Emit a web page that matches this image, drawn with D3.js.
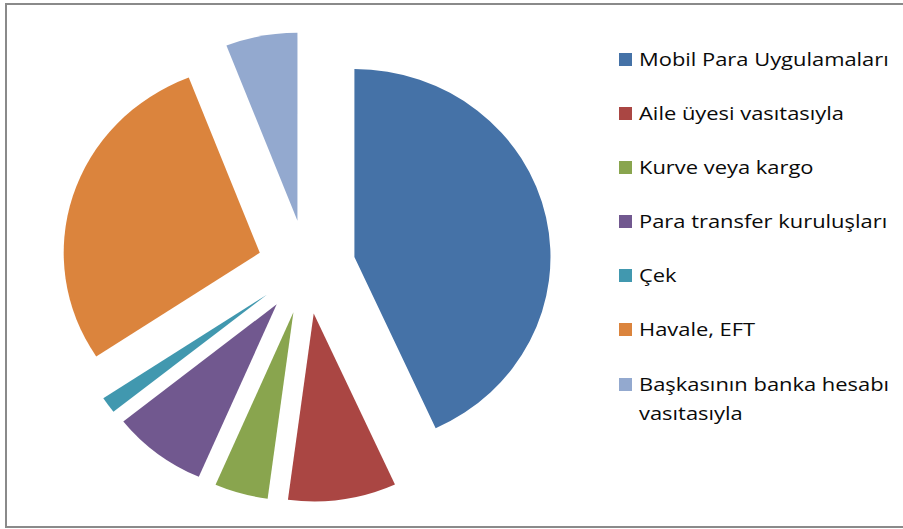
<!DOCTYPE html>
<html><head><meta charset="utf-8">
<script src="https://cdn.jsdelivr.net/npm/d3@7"></script>
<style>body{margin:0;background:#fff;} svg{display:block;}</style>
</head><body>
<svg id="chart" width="903" height="529"></svg>
<script>
const categories = ["Mobil Para Uygulamaları","Aile üyesi vasıtasıyla","Kurve veya kargo","Para transfer kuruluşları","Çek","Havale, EFT","Başkasının banka hesabı vasıtasıyla"];
const values = [43.2, 8.9, 4.4, 7.8, 1.4, 28.4, 5.9];
const colors = ["#4572A7","#AA4643","#89A54E","#71588F","#4198AF","#DB843D","#93A9CF"];

const svg = d3.select("#chart");
svg.append("rect").attr("x",6).attr("y",4).attr("width",920).attr("height",523)
  .attr("fill","#fff").attr("stroke","#8a8a8a").attr("stroke-width",2);

const r = 188, off = 47;
const g = svg.append("g").attr("transform","translate(306.5,267) scale(1.043,1)");
const pie = d3.pie().sort(null).value(d=>d)(values);
const arc = d3.arc().innerRadius(0).outerRadius(r);
g.selectAll("path").data(pie).join("path")
  .attr("d",arc)
  .attr("fill",(d,i)=>colors[i])
  .attr("transform",d=>{const a=(d.startAngle+d.endAngle)/2; return `translate(${off*Math.sin(a)},${-off*Math.cos(a)})`;});

const legendTop = [53,107,161,215,269,323,378];
const lg = svg.append("g").attr("font-family","'Open Sans', sans-serif").attr("font-size",18.5).attr("fill","#0a0a0a");
const texts = [];
categories.forEach((c,i)=>{
  const y = legendTop[i];
  lg.append("rect").attr("x",619).attr("y",y).attr("width",13).attr("height",13).attr("fill",colors[i]);
  const t = lg.append("text").attr("x",0).attr("y",0).attr("transform",`translate(639,${y+13})`);
  if (i===6){
    t.append("tspan").attr("x",0).text("Başkasının banka hesabı");
    t.append("tspan").attr("x",0).attr("dy",29).text("vasıtasıyla");
  } else t.text(c);
  texts.push({t, y});
});
// widen glyphs horizontally so the first entry spans ~250px like the reference
const w0 = texts[0].t.node().getComputedTextLength();
const sx = 250 / w0;
texts.forEach(({t,y})=>t.attr("transform",`translate(639,${y+13}) scale(${sx},1)`));
</script>
</body></html>
